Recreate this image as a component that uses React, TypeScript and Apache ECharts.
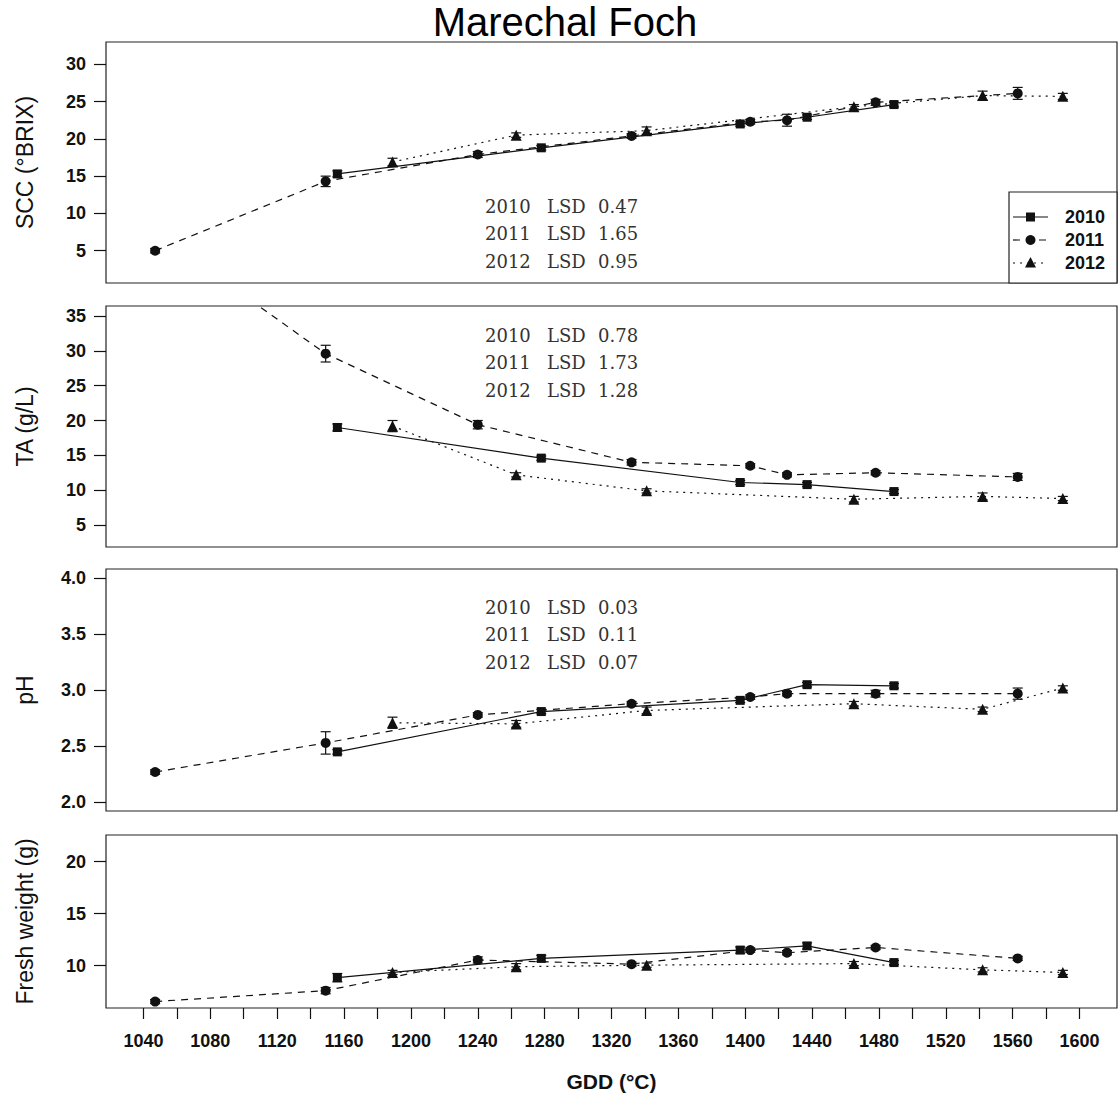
import React, { useEffect, useRef } from "react";
import * as echarts from "echarts";

// Sampling dates (growing degree days, °C) for each season
const gdd2010 = [1156, 1278, 1397, 1437, 1489];
const gdd2011 = [1047, 1149, 1240, 1332, 1403, 1425, 1478, 1563];
const gdd2012 = [1189, 1263, 1341, 1465, 1542, 1590];

// Soluble solids (°BRIX)
const scc2010 = [15.3, 18.8, 22.0, 22.9, 24.6];
const scc2011 = [5.0, 14.3, 17.9, 20.4, 22.3, 22.5, 24.9, 26.1];
const scc2012 = [16.9, 20.5, 21.1, 24.3, 25.8, 25.7];
const sccErr2010 = [0.4, 0.3, 0.3, 0.3, 0.3];
const sccErr2011 = [0.3, 0.7, 0.4, 0.3, 0.3, 0.8, 0.4, 0.8];
const sccErr2012 = [0.5, 0.3, 0.5, 0.3, 0.6, 0.4];

// Titratable acidity (g/L)
const ta2010 = [19.0, 14.6, 11.1, 10.8, 9.8];
const ta2011 = [47.0, 29.6, 19.4, 14.0, 13.5, 12.2, 12.5, 11.9];
const ta2012 = [19.2, 12.2, 9.9, 8.7, 9.1, 8.8];
const taErr2010 = [0.5, 0.3, 0.3, 0.3, 0.3];
const taErr2011 = [0, 1.2, 0.6, 0.4, 0.3, 0.3, 0.3, 0.5];
const taErr2012 = [0.8, 0.3, 0.3, 0.4, 0.5, 0.3];

// Juice pH
const ph2010 = [2.45, 2.81, 2.91, 3.05, 3.04];
const ph2011 = [2.27, 2.53, 2.78, 2.88, 2.94, 2.97, 2.97, 2.97];
const ph2012 = [2.71, 2.7, 2.82, 2.88, 2.83, 3.02];
const phErr2010 = [0.02, 0.02, 0.02, 0.02, 0.02];
const phErr2011 = [0.02, 0.1, 0.02, 0.02, 0.02, 0.02, 0.03, 0.05];
const phErr2012 = [0.05, 0.03, 0.03, 0.02, 0.02, 0.02];

// Berry fresh weight (g)
const fw2010 = [8.85, 10.7, 11.5, 11.9, 10.3];
const fw2011 = [6.55, 7.6, 10.55, 10.15, 11.5, 11.25, 11.75, 10.7];
const fw2012 = [9.35, 9.9, 10.05, 10.2, 9.6, 9.35];
const fwErr2010 = [0.4, 0.3, 0.3, 0.3, 0.2];
const fwErr2011 = [0.2, 0.3, 0.3, 0.2, 0.2, 0.2, 0.2, 0.2];
const fwErr2012 = [0.2, 0.3, 0.2, 0.2, 0.2, 0.2];

// LSD values per year for the first three panels
const years = ["2010", "2011", "2012"];
const sccLsd = ["0.47", "1.65", "0.95"];
const taLsd = ["0.78", "1.73", "1.28"];
const phLsd = ["0.03", "0.11", "0.07"];

// Axis ticks
const gddTicks = [
  1040, 1060, 1080, 1100, 1120, 1140, 1160, 1180, 1200, 1220, 1240, 1260, 1280, 1300, 1320,
  1340, 1360, 1380, 1400, 1420, 1440, 1460, 1480, 1500, 1520, 1540, 1560, 1580, 1600,
];
const gddLabels = [1040, 1080, 1120, 1160, 1200, 1240, 1280, 1320, 1360, 1400, 1440, 1480, 1520, 1560, 1600];
const sccTicks = [5, 10, 15, 20, 25, 30];
const taTicks = [5, 10, 15, 20, 25, 30, 35];
const phTicks = [2.0, 2.5, 3.0, 3.5, 4.0];
const fwTicks = [10, 15, 20];

const W = 1120;
const H = 1099;
const PLOT_LEFT = 106;
const PLOT_RIGHT = 1117;
const X_MIN = 1017.6;
const X_MAX = 1622.4;

const SANS = '"Liberation Sans", Arial, sans-serif';
const SERIF = '"DejaVu Serif", "Liberation Serif", serif';
const INK = "#111";

type YearStyle = { symbol: string; size: number; dash: number[] | "solid" };
const yearStyles: YearStyle[] = [
  { symbol: "rect", size: 9, dash: "solid" },
  { symbol: "circle", size: 10, dash: [7, 6] },
  { symbol: "triangle", size: 11, dash: [2, 5] },
];
const gddByYear = [gdd2010, gdd2011, gdd2012];

type Panel = {
  title: string;
  top: number;
  height: number;
  min: number;
  max: number;
  ticks: number[];
  digits: number;
  values: number[][];
  errors: number[][];
  lsd: string[] | null;
  lsdTop: number;
};

const panels: Panel[] = [
  {
    title: "SCC (°BRIX)", top: 42, height: 241, min: 0.67, max: 32.99, ticks: sccTicks, digits: 0,
    values: [scc2010, scc2011, scc2012], errors: [sccErr2010, sccErr2011, sccErr2012],
    lsd: sccLsd, lsdTop: 206,
  },
  {
    title: "TA (g/L)", top: 306, height: 241, min: 1.84, max: 36.44, ticks: taTicks, digits: 0,
    values: [ta2010, ta2011, ta2012], errors: [taErr2010, taErr2011, taErr2012],
    lsd: taLsd, lsdTop: 335,
  },
  {
    title: "pH", top: 569, height: 242, min: 1.922, max: 4.083, ticks: phTicks, digits: 1,
    values: [ph2010, ph2011, ph2012], errors: [phErr2010, phErr2011, phErr2012],
    lsd: phLsd, lsdTop: 607,
  },
  {
    title: "Fresh weight (g)", top: 835, height: 173, min: 5.93, max: 22.57, ticks: fwTicks, digits: 0,
    values: [fw2010, fw2011, fw2012], errors: [fwErr2010, fwErr2011, fwErr2012],
    lsd: null, lsdTop: 0,
  },
];

function errorBars(params: any, api: any) {
  const x = api.value(0);
  const y = api.value(1);
  const e = api.value(2);
  if (!e) return null;
  const hi = api.coord([x, y + e]);
  const lo = api.coord([x, y - e]);
  const cap = 5;
  const style = { stroke: INK, lineWidth: 1.2 };
  return {
    type: "group",
    children: [
      { type: "line", shape: { x1: hi[0], y1: hi[1], x2: lo[0], y2: lo[1] }, style },
      { type: "line", shape: { x1: hi[0] - cap, y1: hi[1], x2: hi[0] + cap, y2: hi[1] }, style },
      { type: "line", shape: { x1: lo[0] - cap, y1: lo[1], x2: lo[0] + cap, y2: lo[1] }, style },
    ],
  };
}

function buildOption() {
  const grid: any[] = [];
  const xAxis: any[] = [];
  const yAxis: any[] = [];
  const series: any[] = [];
  const graphic: any[] = [];

  panels.forEach((p, i) => {
    const last = i === panels.length - 1;
    grid.push({
      left: PLOT_LEFT,
      width: PLOT_RIGHT - PLOT_LEFT,
      top: p.top,
      height: p.height,
      show: true,
      borderColor: "#222",
      borderWidth: 1.2,
      backgroundColor: "transparent",
    });
    xAxis.push({
      type: "value",
      gridIndex: i,
      min: X_MIN,
      max: X_MAX,
      axisLine: { show: false },
      splitLine: { show: false },
      axisTick: {
        show: last,
        customValues: gddTicks,
        length: 11,
        lineStyle: { color: INK, width: 1.2 },
      },
      axisLabel: {
        show: last,
        customValues: gddLabels,
        margin: 24,
        color: INK,
        fontFamily: SANS,
        fontWeight: "bold",
        fontSize: 18,
        formatter: (v: number) => String(v),
      },
    });
    yAxis.push({
      type: "value",
      gridIndex: i,
      min: p.min,
      max: p.max,
      axisLine: { show: false },
      splitLine: { show: false },
      axisTick: {
        show: true,
        customValues: p.ticks,
        length: 12,
        lineStyle: { color: INK, width: 1.2 },
      },
      axisLabel: {
        customValues: p.ticks,
        margin: 20,
        color: INK,
        fontFamily: SANS,
        fontWeight: "bold",
        fontSize: 18,
        formatter: (v: number) => v.toFixed(p.digits),
      },
    });

    p.values.forEach((vals, yi) => {
      const xs = gddByYear[yi];
      const st = yearStyles[yi];
      series.push({
        type: "custom",
        xAxisIndex: i,
        yAxisIndex: i,
        renderItem: errorBars,
        clip: true,
        silent: true,
        z: 2,
        encode: { x: 0, y: 1 },
        data: xs.map((g, k) => [g, vals[k], p.errors[yi][k]]),
      });
      series.push({
        type: "line",
        name: years[yi],
        xAxisIndex: i,
        yAxisIndex: i,
        data: xs.map((g, k) => [g, vals[k]]),
        symbol: st.symbol,
        symbolSize: st.size,
        showSymbol: true,
        clip: true,
        silent: true,
        z: 3,
        lineStyle: { color: INK, width: 1.2, type: st.dash },
        itemStyle: { color: INK },
      });
    });

    // axis title
    graphic.push({
      type: "text",
      x: 25,
      y: p.top + p.height / 2,
      rotation: Math.PI / 2,
      style: {
        text: p.title,
        fill: INK,
        font: `23px ${SANS}`,
        textAlign: "center",
        textVerticalAlign: "middle",
      },
    });

    // LSD annotations
    if (p.lsd) {
      p.lsd.forEach((val, k) => {
        const y = p.lsdTop + k * 27.8;
        const parts: [string, number][] = [
          [years[k], 485],
          ["LSD", 547],
          [val, 598],
        ];
        parts.forEach(([t, x]) => {
          graphic.push({
            type: "text",
            x,
            y,
            style: {
              text: t,
              fill: "#333",
              font: `18px ${SERIF}`,
              textAlign: "left",
              textVerticalAlign: "middle",
            },
          });
        });
      });
    }
  });

  // Title and x-axis name
  graphic.push({
    type: "text",
    x: 565,
    y: 2,
    style: {
      text: "Marechal Foch",
      fill: "#000",
      font: `40px ${SANS}`,
      textAlign: "center",
      textVerticalAlign: "top",
    },
  });
  graphic.push({
    type: "text",
    x: (PLOT_LEFT + PLOT_RIGHT) / 2,
    y: 1081,
    style: {
      text: "GDD (°C)",
      fill: INK,
      font: `bold 21px ${SANS}`,
      textAlign: "center",
      textVerticalAlign: "middle",
    },
  });

  // Legend box in the first panel
  const lgX = 1009;
  const lgY = 192;
  graphic.push({
    type: "rect",
    shape: { x: lgX, y: lgY, width: PLOT_RIGHT - lgX, height: 283 - lgY },
    style: { fill: "#fff", stroke: "#222", lineWidth: 1.2 },
    z: 10,
  });
  years.forEach((yr, k) => {
    const cy = 217 + k * 23;
    const st = yearStyles[k];
    graphic.push({
      type: "line",
      shape: { x1: 1013, y1: cy, x2: 1048, y2: cy },
      style: {
        stroke: INK,
        lineWidth: 1.2,
        lineDash: st.dash === "solid" ? null : st.dash,
      },
      z: 11,
    });
    if (k === 0) {
      graphic.push({
        type: "rect",
        shape: { x: 1026, y: cy - 4.5, width: 9, height: 9 },
        style: { fill: INK },
        z: 12,
      });
    } else if (k === 1) {
      graphic.push({
        type: "circle",
        shape: { cx: 1030.5, cy, r: 5 },
        style: { fill: INK },
        z: 12,
      });
    } else {
      graphic.push({
        type: "polygon",
        shape: { points: [[1030.5, cy - 6], [1036, cy + 4.5], [1025, cy + 4.5]] },
        style: { fill: INK },
        z: 12,
      });
    }
    graphic.push({
      type: "text",
      x: 1065,
      y: cy,
      style: {
        text: yr,
        fill: INK,
        font: `bold 18px ${SANS}`,
        textAlign: "left",
        textVerticalAlign: "middle",
      },
      z: 12,
    });
  });

  return {
    animation: false,
    backgroundColor: "#fff",
    grid,
    xAxis,
    yAxis,
    series,
    graphic,
  };
}

export default function App() {
  const ref = useRef<HTMLDivElement>(null);
  useEffect(() => {
    if (!ref.current) return;
    const chart = echarts.init(ref.current, undefined, { renderer: "svg" });
    chart.setOption(buildOption());
    return () => chart.dispose();
  }, []);
  return (
    <div
      ref={ref}
      style={{ position: "absolute", left: 0, top: 0, width: W, height: H, background: "#fff" }}
    />
  );
}
